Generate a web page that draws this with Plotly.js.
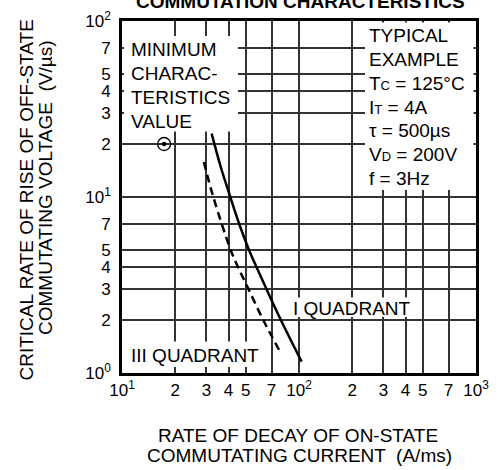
<!DOCTYPE html>
<html>
<head>
<meta charset="utf-8">
<script src="https://cdn.plot.ly/plotly-3.0.1.min.js"></script>
<style>html,body{margin:0;padding:0;background:#fff;}#chart{width:498px;height:470px;}</style>
</head>
<body>
<div id="chart"></div>
<script>
// ---- data ----
var solidX = [32.1, 36, 40.4, 46, 52.2, 57.5, 65.5, 79, 103.5];
var solidY = [22.9, 15, 10.4, 7, 5, 4, 3, 2, 1.16];
var dashX = [29.0, 32.8, 41.1, 45.2, 51.8, 62.8, 78.2];
var dashY = [15.8, 10, 5, 4, 3, 2, 1.32];
var minPointX = [17.3];
var minPointY = [20];
var xTickVals = [10, 20, 30, 40, 50, 70, 100, 200, 300, 400, 500, 700, 1000];
var xTickText = ['10<sup>1</sup>', '2', '3', '4', '5', '7', '10<sup>2</sup>', '2', '3', '4', '5', '7', '10<sup>3</sup>'];
var yTickVals = [1, 2, 3, 4, 5, 7, 10, 20, 30, 40, 50, 70, 100];
var yTickText = ['10<sup>0</sup>', '2', '3', '4', '5', '7', '10<sup>1</sup>', '2', '3', '4', '5', '7', '10<sup>2</sup>'];
var titleText = 'COMMUTATION CHARACTERISTICS';
var yTitleLines = ['CRITICAL RATE OF RISE OF OFF-STATE', 'COMMUTATING VOLTAGE  (V/\u00b5s)'];
var xTitleLines = ['RATE OF DECAY OF ON-STATE', 'COMMUTATING CURRENT  (A/ms)'];
var minLines = ['MINIMUM', 'CHARAC-', 'TERISTICS', 'VALUE'];
var typLines = ['TYPICAL', 'EXAMPLE',
  'T<span style="font-size:13px">C</span> = 125\u00b0C',
  'I<span style="font-size:13px">T</span> = 4A',
  '\u03c4 = 500\u00b5s',
  'V<span style="font-size:13px">D</span> = 200V',
  'f = 3Hz'];
var quad1Label = 'I QUADRANT';
var quad3Label = 'III QUADRANT';

// ---- geometry helpers (pixel -> paper) ----
var L = 122, R = 476, T = 21, B = 373;
var W = R - L, H = B - T;
function px(x) { return (x - L) / W; }
function py(y) { return (B - y) / H; }
function pyBase(base, fs) { return py(base - 0.3465 * fs); }

var FONT = 'Liberation Sans, Arial, sans-serif';
var fsBox = 19, fsTitle = 19;

var annotations = [];
annotations.push({xref: 'paper', yref: 'paper', x: px(300), y: pyBase(8.5, 19), xanchor: 'center', yanchor: 'middle',
  text: '<b>' + titleText + '</b>', showarrow: false, font: {family: FONT, size: 19, color: '#000'}});
var yTitleX = [25.5, 45], yTitleY = [200, 188];
yTitleLines.forEach(function (t, i) {
  annotations.push({xref: 'paper', yref: 'paper', x: px(yTitleX[i]), y: py(yTitleY[i]), xanchor: 'center', yanchor: 'middle',
    textangle: -90, text: t, showarrow: false, font: {family: FONT, size: fsTitle, color: '#000'}});
});
var xTitleX = [297.5, 299.5], xTitleBase = [442, 462];
xTitleLines.forEach(function (t, i) {
  annotations.push({xref: 'paper', yref: 'paper', x: px(xTitleX[i]), y: pyBase(xTitleBase[i], fsTitle), xanchor: 'center', yanchor: 'middle',
    text: t, showarrow: false, font: {family: FONT, size: fsTitle, color: '#000'}});
});
var minBase = [56, 80.5, 104, 128.3];
minLines.forEach(function (t, i) {
  annotations.push({xref: 'paper', yref: 'paper', x: px(128.5), y: pyBase(minBase[i], fsBox), xanchor: 'left', yanchor: 'middle',
    text: t, showarrow: false, font: {family: FONT, size: fsBox, color: '#000'}});
});
typLines.forEach(function (t, i) {
  annotations.push({xref: 'paper', yref: 'paper', x: px(366.5), y: pyBase(42.3 + 23.8 * i, fsBox), xanchor: 'left', yanchor: 'middle',
    text: t, showarrow: false, font: {family: FONT, size: fsBox, color: '#000'}});
});
annotations.push({xref: 'paper', yref: 'paper', x: px(290.5), y: pyBase(315, fsBox), xanchor: 'left', yanchor: 'middle',
  text: quad1Label, showarrow: false, font: {family: FONT, size: fsBox, color: '#000'}});
annotations.push({xref: 'paper', yref: 'paper', x: px(128.5), y: pyBase(361.7, fsBox), xanchor: 'left', yanchor: 'middle',
  text: quad3Label, showarrow: false, font: {family: FONT, size: fsBox, color: '#000'}});

function mask(x0, y0, x1, y1) {
  return {type: 'rect', xref: 'paper', yref: 'paper', x0: px(x0), x1: px(x1), y0: py(y1), y1: py(y0),
    fillcolor: '#fff', line: {width: 0}, layer: 'above'};
}
var shapes = [
  mask(124, 36, 238, 131.5),
  mask(365, 22.5, 473.5, 190),
  mask(291, 297.5, 416, 317),
  mask(124, 341.5, 267, 367)
];

var traces = [
  {x: solidX, y: solidY, mode: 'lines', line: {color: '#000', width: 2.5, shape: 'spline'}, hoverinfo: 'skip'},
  {x: dashX, y: dashY, mode: 'lines', line: {color: '#000', width: 2.5, dash: '8px,5px', shape: 'spline'}, hoverinfo: 'skip'},
  {x: minPointX, y: minPointY, mode: 'markers', marker: {symbol: 'circle-open', size: 13, color: '#000', line: {width: 1.3, color: '#000'}}, hoverinfo: 'skip'},
  {x: minPointX, y: minPointY, mode: 'markers', marker: {symbol: 'circle', size: 4.5, color: '#000', line: {width: 0}}, hoverinfo: 'skip'}
];

var axisCommon = {
  type: 'log', showline: true, mirror: true, linewidth: 2.6, linecolor: '#000',
  showgrid: true, gridcolor: '#333', gridwidth: 2, zeroline: false,
  tickmode: 'array', tickfont: {family: FONT, size: 17, color: '#000'}
};
var layout = {
  width: 498, height: 470,
  margin: {l: L, r: 498 - R, t: T, b: 470 - B, pad: 0},
  paper_bgcolor: '#fff', plot_bgcolor: '#fff',
  showlegend: false,
  xaxis: Object.assign({}, axisCommon, {range: [1, 3], tickvals: xTickVals, ticktext: xTickText, ticks: ''}),
  yaxis: Object.assign({}, axisCommon, {range: [0, 2], tickvals: yTickVals, ticktext: yTickText,
    ticks: 'outside', ticklen: 5, tickcolor: 'rgba(0,0,0,0)'}),
  annotations: annotations,
  shapes: shapes
};
Plotly.newPlot('chart', traces, layout, {displayModeBar: false});
</script>
</body>
</html>
